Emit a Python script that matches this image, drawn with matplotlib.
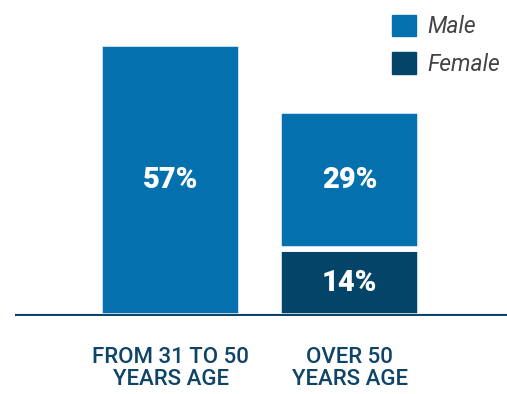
import matplotlib.pyplot as plt
from matplotlib.patches import Patch

categories = ['FROM 31 TO 50\nYEARS AGE', 'OVER 50\nYEARS AGE']
male = [57, 29]
female = [0, 14]

male_color = '#0570ae'
female_color = '#044468'
text_color = '#0e4467'

plt.rcParams['font.family'] = ['Roboto', 'DejaVu Sans']

fig = plt.figure(figsize=(5.07, 3.94), dpi=100)
ax = fig.add_axes([15 / 507, 78 / 394, 492 / 507, 316 / 394])

x = list(range(len(categories)))
w = 0.785
ax.bar(x, female, width=w, color=female_color, edgecolor='white', linewidth=4)
ax.bar(x, male, bottom=female, width=w, color=male_color, edgecolor='white', linewidth=4)

for i in x:
    if female[i] > 0:
        ax.text(i, female[i] / 2, f'{female[i]}%', ha='center', va='center',
                color='white', fontsize=21, fontweight='black')
    ax.text(i, female[i] + male[i] / 2, f'{male[i]}%', ha='center', va='center',
            color='white', fontsize=21, fontweight='black')

ax.axhline(0, color=text_color, linewidth=3, zorder=5)
ax.set_xlim(-0.869, 1.88)
ax.set_ylim(0, 66.2)
ax.set_xticks(x)
ax.set_xticklabels(categories, fontsize=16, fontweight='medium', color=text_color,
                   linespacing=1.12)
ax.tick_params(axis='x', length=0, pad=22)
ax.set_yticks([])
for s in ax.spines.values():
    s.set_visible(False)

handles = [Patch(color=male_color, label='Male'), Patch(color=female_color, label='Female')]
fig.legend(handles=handles, loc='upper right', bbox_to_anchor=(1.028, 1.015), frameon=False,
           prop={'style': 'italic', 'size': 16.5}, labelcolor='#444444',
           handlelength=1.05, handleheight=1.05, handletextpad=0.5, labelspacing=0.62)

fig.savefig('out.png', dpi=100)
